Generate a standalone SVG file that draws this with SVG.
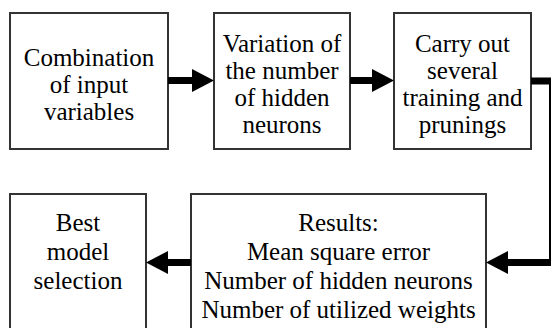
<svg xmlns="http://www.w3.org/2000/svg" width="551" height="328" viewBox="0 0 551 328">
<defs>
<polygon id="head" points="0,-11.5 22,0 0,11.5" fill="#000"/>
</defs>
<rect width="551" height="328" fill="#fff"/>
<g id="n1"><rect x="10" y="13" width="158" height="136" fill="#fff" stroke="#333" stroke-width="2"/></g>
<g id="n2"><rect x="214" y="13" width="136" height="136" fill="#fff" stroke="#333" stroke-width="2"/></g>
<g id="n3"><rect x="394" y="13" width="137" height="136" fill="#fff" stroke="#333" stroke-width="2"/></g>
<g id="n4"><rect x="10" y="194" width="136" height="150" fill="#fff" stroke="#333" stroke-width="2"/></g>
<g id="n5"><rect x="191" y="194" width="295" height="150" fill="#fff" stroke="#333" stroke-width="2"/></g>
<text x="89" y="66" font-size="25" font-family="Liberation Serif" text-anchor="middle">Combination</text>
<text x="89" y="93" font-size="25" font-family="Liberation Serif" text-anchor="middle">of input</text>
<text x="89" y="120" font-size="25" font-family="Liberation Serif" text-anchor="middle">variables</text>
<text x="282" y="52" font-size="25" font-family="Liberation Serif" text-anchor="middle">Variation of</text>
<text x="282" y="79" font-size="25" font-family="Liberation Serif" text-anchor="middle">the number</text>
<text x="282" y="106" font-size="25" font-family="Liberation Serif" text-anchor="middle">of hidden</text>
<text x="282" y="133" font-size="25" font-family="Liberation Serif" text-anchor="middle">neurons</text>
<text x="462.5" y="52" font-size="25" font-family="Liberation Serif" text-anchor="middle">Carry out</text>
<text x="462.5" y="79" font-size="25" font-family="Liberation Serif" text-anchor="middle">several</text>
<text x="462.5" y="106" font-size="25" font-family="Liberation Serif" text-anchor="middle">training and</text>
<text x="462.5" y="133" font-size="25" font-family="Liberation Serif" text-anchor="middle">prunings</text>
<text x="78" y="231" font-size="25" font-family="Liberation Serif" text-anchor="middle">Best</text>
<text x="78" y="260" font-size="25" font-family="Liberation Serif" text-anchor="middle">model</text>
<text x="78" y="289" font-size="25" font-family="Liberation Serif" text-anchor="middle">selection</text>
<text x="338.5" y="231" font-size="25" font-family="Liberation Serif" text-anchor="middle">Results:</text>
<text x="338.5" y="260" font-size="25" font-family="Liberation Serif" text-anchor="middle">Mean square error</text>
<text x="338.5" y="289" font-size="25" font-family="Liberation Serif" text-anchor="middle">Number of hidden neurons</text>
<text x="338.5" y="318" font-size="25" font-family="Liberation Serif" text-anchor="middle">Number of utilized weights</text>
<g id="connectors" fill="none" stroke="#000" stroke-width="7">
<path d="M168,80.5H193"/>
<path d="M350,80.5H374"/>
<path d="M531,81H552.5V262.5H507"/>
<path d="M191,262.5H167"/>
</g>
<g id="arrowheads">
<use href="#head" transform="translate(192,80.5)"/>
<use href="#head" transform="translate(372,80.5)"/>
<use href="#head" transform="translate(508,262.5) scale(-1,1)"/>
<use href="#head" transform="translate(168,262.5) scale(-1,1)"/>
</g>
</svg>
